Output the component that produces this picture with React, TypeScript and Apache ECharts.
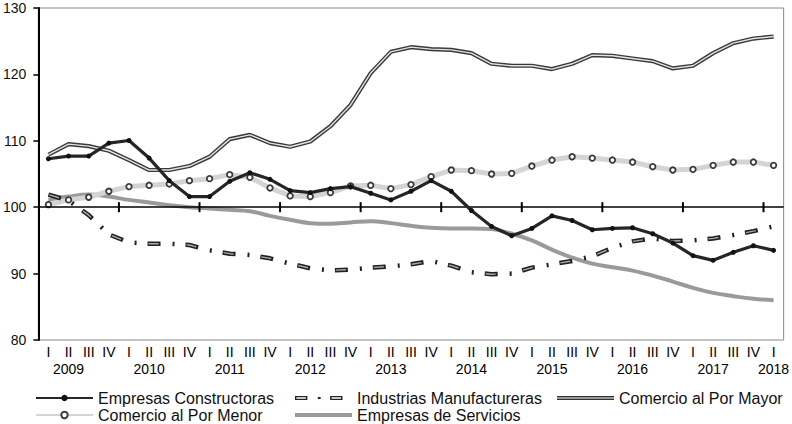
import React, { useEffect, useRef } from "react";
import * as echarts from "echarts";

const years = ["2009", "2010", "2011", "2012", "2013", "2014", "2015", "2016", "2017"];
const quarters = ["I", "II", "III", "IV"];
const lastPeriod = "2018-I";
const categories: string[] = [];
years.forEach((y) => quarters.forEach((q) => categories.push(`${y}-${q}`)));
categories.push(lastPeriod);

const yTicks = { min: 80, max: 130, interval: 10 };

const constructoras = [107.3, 107.7, 107.7, 109.65, 110.05, 107.4, 104.0, 101.6, 101.6, 103.9, 105.2, 104.2, 102.5, 102.2, 102.8, 103.1, 102.1, 101.1, 102.4, 104.0, 102.4, 99.5, 97.1, 95.7, 96.8, 98.7, 98.0, 96.6, 96.8, 96.9, 96.0, 94.6, 92.7, 92.0, 93.2, 94.2, 93.5];
const industrias = [101.9, 101.0, 98.8, 95.9, 94.7, 94.5, 94.5, 94.3, 93.5, 93.0, 92.8, 92.3, 91.5, 90.8, 90.5, 90.6, 90.9, 91.1, 91.4, 91.9, 91.2, 90.2, 89.9, 90.0, 90.9, 91.4, 91.9, 92.6, 93.9, 94.85, 95.3, 94.9, 95.0, 95.3, 95.8, 96.4, 97.1];
const mayor = [107.9, 109.5, 109.2, 108.5, 107.1, 105.6, 105.6, 106.2, 107.6, 110.25, 110.9, 109.65, 109.1, 109.9, 112.2, 115.4, 120.2, 123.4, 124.1, 123.8, 123.7, 123.2, 121.6, 121.3, 121.3, 120.8, 121.6, 122.9, 122.8, 122.4, 122.0, 120.9, 121.3, 123.2, 124.7, 125.4, 125.7];
const menor = [100.4, 101.1, 101.5, 102.4, 103.1, 103.3, 103.5, 104.0, 104.3, 104.9, 104.5, 102.9, 101.7, 101.6, 102.2, 103.2, 103.3, 102.8, 103.4, 104.6, 105.6, 105.5, 105.0, 105.1, 106.2, 107.1, 107.6, 107.4, 107.1, 106.8, 106.1, 105.6, 105.7, 106.3, 106.8, 106.8, 106.3];
const servicios = [101.1, 101.6, 101.9, 101.6, 101.1, 100.7, 100.3, 100.0, 99.8, 99.6, 99.4, 98.7, 98.1, 97.6, 97.5, 97.7, 97.9, 97.6, 97.2, 96.9, 96.8, 96.8, 96.7, 96.0, 95.0, 93.6, 92.4, 91.5, 90.95, 90.45, 89.7, 88.8, 87.85, 87.1, 86.6, 86.2, 86.0];

const names = {
  constructoras: "Empresas Constructoras",
  industrias: "Industrias Manufactureras",
  mayor: "Comercio al Por Mayor",
  menor: "Comercio al Por Menor",
  servicios: "Empresas de Servicios",
};

const baseline = 100;
const FONT = "'Liberation Sans', Arial, sans-serif";
const GRID = { left: 38, top: 8, width: 756, height: 332 };

export default function App() {
  const ref = useRef<HTMLDivElement>(null);

  useEffect(() => {
    if (!ref.current) return;
    const chart = echarts.init(ref.current, undefined, { renderer: "svg" });

    const legendText = { fontSize: 16, color: "#111", fontFamily: FONT };
    const mkLegend = (name: string, left: number, top: number, extra: any = {}) => ({
      data: [extra.item ? { name, ...extra.item } : name],
      left,
      top,
      padding: 0,
      itemWidth: 57,
      itemHeight: extra.itemHeight ?? 8,
      selectedMode: false,
      textStyle: legendText,
    });

    const option: any = {
      animation: false,
      grid: {
        ...GRID,
        show: true,
        borderColor: "#888",
        borderWidth: 1,
        backgroundColor: "transparent",
      },
      legend: [
        mkLegend(names.constructoras, 35, 390),
        mkLegend(names.industrias, 295, 390, {
          itemHeight: 4,
          item: {
            icon:
              "path://M0,0H13V4H0Z M1.5,1.3V2.7H11.5V1.3Z M24,1H27V3H24Z M37,0H50V4H37Z M38.5,1.3V2.7H48.5V1.3Z M59.9,1.9H60V2H59.9Z",
            itemStyle: { color: "#222", borderWidth: 0 },
          },
        }),
        mkLegend(names.mayor, 557, 390, {
          itemHeight: 4,
          item: {
            icon: "path://M0,0H60V1.4H0Z M0,2.6H60V4H0Z",
            itemStyle: { color: "#333", borderWidth: 0 },
          },
        }),
        mkLegend(names.menor, 35, 407),
        mkLegend(names.servicios, 295, 407, {
          itemHeight: 4,
          item: { icon: "rect", itemStyle: { color: "#9a9a9a", borderWidth: 0 } },
        }),
      ],
      xAxis: {
        type: "category",
        data: categories,
        boundaryGap: true,
        axisLine: { show: false },
        axisTick: { show: false },
        splitLine: { show: false },
        axisLabel: {
          interval: 0,
          margin: 3,
          fontSize: 14,
          lineHeight: 17,
          color: "#000",
          fontFamily: FONT,
          formatter: (value: string, index: number) => {
            const [y, q] = value.split("-");
            return q === "II" || index === categories.length - 1 ? `${q}\n${y}` : q;
          },
        },
      },
      yAxis: {
        type: "value",
        min: yTicks.min,
        max: yTicks.max,
        interval: yTicks.interval,
        axisLine: { show: true, lineStyle: { color: "#000", width: 2 } },
        axisTick: { show: true, length: 5, lineStyle: { color: "#000", width: 1.5 } },
        splitLine: { show: false },
        axisLabel: { margin: 12, fontSize: 14, color: "#111", fontFamily: FONT },
      },
      series: [
        {
          type: "line",
          name: "_baseline",
          data: categories.map(() => baseline),
          symbol: "none",
          lineStyle: { width: 0, opacity: 0 },
          silent: true,
          z: 1,
          markLine: {
            silent: true,
            symbol: ["none", "none"],
            label: { show: false },
            lineStyle: { color: "#000", width: 1.5, type: "solid" },
            data: [{ yAxis: baseline }],
          },
        },
        {
          type: "line",
          name: names.servicios,
          data: servicios,
          smooth: 0.4,
          symbol: "none",
          lineStyle: { color: "#9a9a9a", width: 4 },
          itemStyle: { color: "#9a9a9a" },
          z: 2,
        },
        {
          type: "line",
          name: names.menor,
          data: menor,
          symbol: "circle",
          symbolSize: 5.5,
          lineStyle: { color: "#d4d4d4", width: 5 },
          itemStyle: { color: "#fff", borderColor: "#3a3a3a", borderWidth: 1.8 },
          z: 3,
        },
        {
          type: "line",
          name: names.industrias,
          data: industrias,
          symbol: "none",
          lineStyle: { color: "#222", width: 4.5, type: [13, 12, 2, 11], cap: "butt" },
          itemStyle: { color: "#222" },
          z: 4,
        },
        {
          type: "line",
          name: "_industriasInner",
          data: industrias,
          symbol: "none",
          lineStyle: { color: "#aaa", width: 1.4, type: [10, 28], dashOffset: 36.5, cap: "butt" },
          itemStyle: { color: "#aaa" },
          z: 4,
        },
        {
          type: "line",
          name: names.mayor,
          data: mayor,
          symbol: "none",
          lineStyle: { color: "#3a3a3a", width: 4.2 },
          itemStyle: { color: "#3a3a3a" },
          z: 5,
        },
        {
          type: "line",
          name: "_mayorInner",
          data: mayor,
          symbol: "none",
          lineStyle: { color: "#e2e2e2", width: 1.4 },
          itemStyle: { color: "#e2e2e2" },
          z: 5,
        },
        {
          type: "line",
          name: names.constructoras,
          data: constructoras,
          symbol: "circle",
          symbolSize: 5,
          lineStyle: { color: "#262626", width: 3.2 },
          itemStyle: { color: "#111" },
          z: 6,
        },
      ],
    };

    chart.setOption(option);

    // year-boundary ticks on the 100 baseline, positioned through the chart's own scales
    const ticks: any[] = [];
    categories.forEach((c, i) => {
      if (i > 0 && c.endsWith("-I")) {
        const a = chart.convertToPixel({ gridIndex: 0 }, [i - 1, baseline]) as number[];
        const b = chart.convertToPixel({ gridIndex: 0 }, [i, baseline]) as number[];
        if (a && b) {
          const x = (a[0] + b[0]) / 2;
          ticks.push({
            type: "line",
            silent: true,
            z: 10,
            shape: { x1: x, y1: a[1] - 5, x2: x, y2: a[1] + 5 },
            style: { stroke: "#000", lineWidth: 2 },
          });
        }
      }
    });
    chart.setOption({ graphic: ticks });

    return () => chart.dispose();
  }, []);

  return (
    <div
      ref={ref}
      style={{ position: "absolute", left: 0, top: 0, width: 792, height: 424, background: "#fff" }}
    />
  );
}
